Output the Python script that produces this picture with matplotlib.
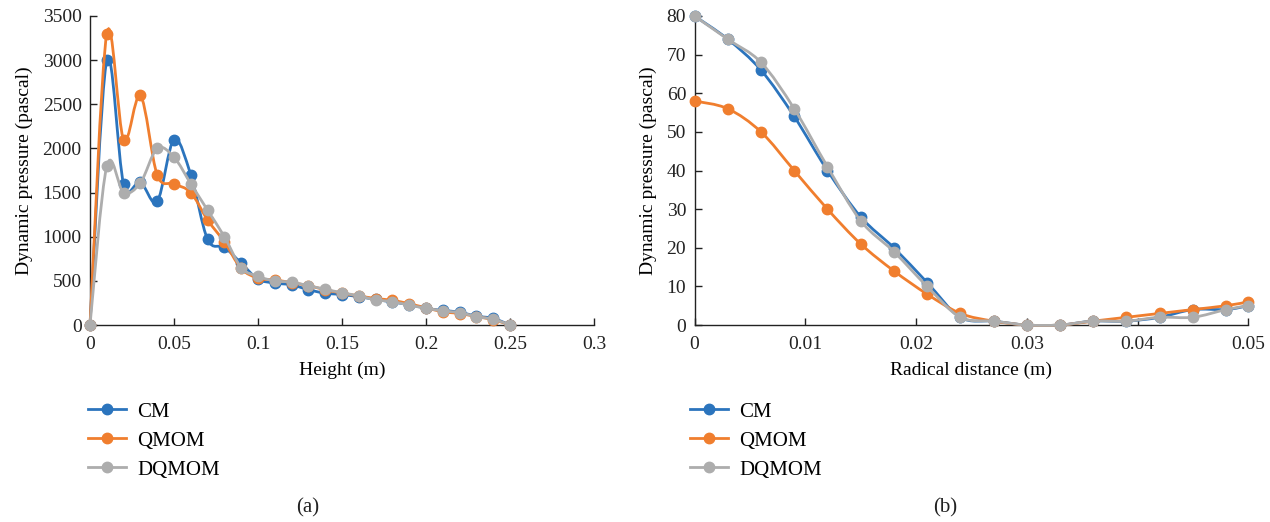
import numpy as np
import matplotlib
matplotlib.use('Agg')
import matplotlib.pyplot as plt
from matplotlib.path import Path
from matplotlib.patches import PathPatch
from matplotlib.lines import Line2D

# (a) dynamic pressure along the column height
height = [0, 0.01, 0.02, 0.03, 0.04, 0.05, 0.06, 0.07, 0.08, 0.09, 0.10, 0.11, 0.12,
          0.13, 0.14, 0.15, 0.16, 0.17, 0.18, 0.19, 0.20, 0.21, 0.22, 0.23, 0.24, 0.25]
cm_a = [0, 3000, 1600, 1620, 1400, 2100, 1700, 970, 880, 700, 520, 475, 455,
        400, 360, 345, 320, 290, 260, 230, 190, 165, 145, 100, 75, 0]
qmom_a = [0, 3300, 2100, 2600, 1700, 1600, 1500, 1190, 940, 640, 530, 510, 480,
          445, 400, 360, 330, 300, 280, 240, 195, 150, 130, 95, 60, 0]
dqmom_a = [0, 1800, 1500, 1610, 2000, 1900, 1600, 1300, 1000, 650, 550, 500, 485,
           445, 405, 365, 330, 285, 265, 225, 190, 160, 140, 95, 65, 0]

# (b) dynamic pressure along the radius
radius = [0, 0.003, 0.006, 0.009, 0.012, 0.015, 0.018, 0.021, 0.024, 0.027,
          0.030, 0.033, 0.036, 0.039, 0.042, 0.045, 0.048, 0.050]
cm_b = [80, 74, 66, 54, 40, 28, 20, 11, 2, 1, 0, 0, 1, 1, 2, 4, 4, 5]
qmom_b = [58, 56, 50, 40, 30, 21, 14, 8, 3, 1, 0, 0, 1, 2, 3, 4, 5, 6]
dqmom_b = [80, 74, 68, 56, 41, 27, 19, 10, 2, 1, 0, 0, 1, 1, 2, 2, 4, 5]

names = ['CM', 'QMOM', 'DQMOM']
colors = ['#2B74BD', '#F07E2E', '#ADADAD']

plt.rcParams['font.family'] = ['Liberation Serif', 'DejaVu Serif']
plt.rcParams['font.size'] = 14


def smooth_path(x, y):
    # Catmull-Rom style cubic Bezier through the points (like a spreadsheet "smoothed line")
    x = np.asarray(x, float)
    y = np.asarray(y, float)
    pts = np.column_stack([x, y])
    n = len(pts)
    verts = [pts[0]]
    codes = [Path.MOVETO]
    for i in range(n - 1):
        p0 = pts[i - 1] if i > 0 else pts[i]
        p1 = pts[i]
        p2 = pts[i + 1]
        p3 = pts[i + 2] if i + 2 < n else pts[i + 1]
        c1 = p1 + (p2 - p0) / 6.0
        c2 = p2 - (p3 - p1) / 6.0
        verts += [c1, c2, p2]
        codes += [Path.CURVE4] * 3
    return Path(verts, codes)


def draw_series(ax, x, y, color):
    patch = PathPatch(smooth_path(x, y), fill=False, edgecolor=color, lw=2.0,
                      clip_on=False, zorder=3)
    ax.add_patch(patch)
    ax.plot(x, y, linestyle='none', marker='o', ms=7.5, color=color,
            clip_on=False, zorder=3)


fig = plt.figure(figsize=(12.7, 5.22), dpi=100)
ax1 = fig.add_axes([90 / 1270, 197 / 522, 504 / 1270, 309 / 522])
ax2 = fig.add_axes([694.5 / 1270, 197 / 522, 553.8 / 1270, 309 / 522])

for yy, c in zip([cm_a, qmom_a, dqmom_a], colors):
    draw_series(ax1, height, yy, c)
for yy, c in zip([cm_b, qmom_b, dqmom_b], colors):
    draw_series(ax2, radius, yy, c)

ax1.set_xlim(0, 0.3)
ax1.set_ylim(0, 3500)
ax1.set_xticks([0, 0.05, 0.1, 0.15, 0.2, 0.25, 0.3])
ax1.set_xticklabels(['0', '0.05', '0.1', '0.15', '0.2', '0.25', '0.3'])
ax1.set_yticks(range(0, 3501, 500))
ax1.set_xlabel('Height (m)', labelpad=6)

ax2.set_xlim(0, 0.05)
ax2.set_ylim(0, 80)
ax2.set_xticks([0, 0.01, 0.02, 0.03, 0.04, 0.05])
ax2.set_xticklabels(['0', '0.01', '0.02', '0.03', '0.04', '0.05'])
ax2.set_yticks(range(0, 81, 10))
ax2.set_xlabel('Radical distance (m)', labelpad=6)

for ax in (ax1, ax2):
    ax.set_ylabel('Dynamic pressure (pascal)', labelpad=7)
    for s in ('top', 'right'):
        ax.spines[s].set_visible(False)
    for s in ('left', 'bottom'):
        ax.spines[s].set_color('#222222')
        ax.spines[s].set_linewidth(1.0)
    ax.tick_params(direction='in', length=5, width=1.0, color='#222222',
                   labelcolor='#222222')
    ax.tick_params(axis='x', pad=8)
    ax.tick_params(axis='y', pad=6)

handles = [Line2D([], [], color=c, lw=2.0, marker='o', ms=7.5) for c in colors]
for x0 in (88, 690):
    fig.legend(handles, names, loc='upper left',
               bbox_to_anchor=(x0 / 1270, 1 - 402 / 522),
               frameon=False, borderpad=0, borderaxespad=0, handlelength=1.8,
               handletextpad=0.55, labelspacing=0.45, fontsize=15)

fig.text(308 / 1270, 1 - 508 / 522, '(a)', ha='center', va='center',
         color='#222222', fontsize=15)
fig.text(945 / 1270, 1 - 508 / 522, '(b)', ha='center', va='center',
         color='#222222', fontsize=15)

fig.savefig('out.png', dpi=100)
